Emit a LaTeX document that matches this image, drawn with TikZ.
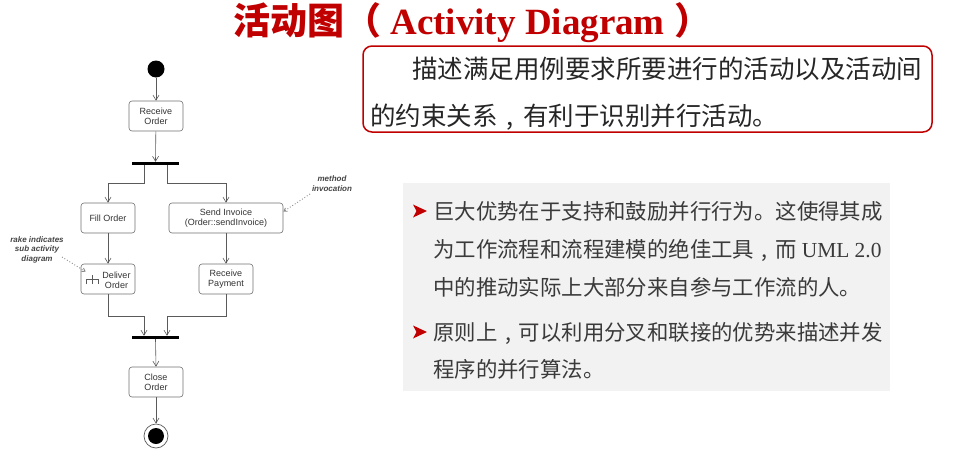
\documentclass[tikz,border=0pt]{standalone}
\usepackage{fontspec}
\setmainfont{Liberation Sans}
\newfontfamily\cjk{Noto Sans CJK SC}
\newfontfamily\latinserif{Liberation Serif}
\usetikzlibrary{arrows.meta}

\definecolor{titlered}{HTML}{C00000}
\definecolor{darktext}{HTML}{262626}
\definecolor{bodytext}{HTML}{3A3A3A}
\definecolor{panelgray}{HTML}{F2F2F2}
\definecolor{linegray}{HTML}{5A5A5A}
\definecolor{boxgray}{HTML}{707070}
\definecolor{diagtext}{HTML}{333333}
\definecolor{notegray}{HTML}{444444}
\definecolor{dotgray}{HTML}{8A8A8A}

% comma set in the middle of a full-width cell
\newcommand{\midcomma}{\makebox[1em][c]{,}}

\tikzset{
  act/.style={draw=boxgray, line width=0.6pt, rounded corners=3pt, fill=white,
    minimum height=30pt, inner sep=0pt, align=center, text=diagtext,
    font=\fontsize{9}{10}\selectfont},
  syncbar/.style={fill=black, minimum height=3pt, minimum width=47pt, inner sep=0pt},
  flow/.style={draw=linegray, line width=0.6pt, -{Straight Barb[length=5pt,width=6pt]}},
  note/.style={font=\fontsize{8}{9.5}\selectfont\bfseries\itshape, text=notegray,
    align=center, inner sep=0pt},
  noteline/.style={draw=dotgray, dotted, line width=0.9pt,
    -{Straight Barb[length=3pt,width=4pt]}},
  redline/.style={anchor=base west, inner sep=0pt, text=darktext,
    font=\cjk\fontsize{25.5}{25.5}\selectfont},
  panelline/.style={anchor=base west, inner sep=0pt, text=bodytext,
    font=\cjk\fontsize{21.4}{21.4}\selectfont},
}

\begin{document}
\begin{tikzpicture}[x=1pt, y=-1pt]
\useasboundingbox (0,0) rectangle (963,455);

% ---------- heading ----------
\node[anchor=base west, inner sep=0pt, text=titlered] (title) at (233,34.5)
  {{\cjk\bfseries\fontsize{37}{37}\selectfont 活动图（}{\latinserif\bfseries\fontsize{37}{37}\selectfont\ Activity Diagram\ }{\cjk\bfseries\fontsize{37}{37}\selectfont ）}};

% ---------- framed description ----------
\node[draw=titlered, line width=1.5pt, rounded corners=9pt, minimum width=569pt,
      minimum height=86pt, inner sep=0pt] (desc) at (647.5,89) {};
\node[redline] (d1) at (412,78) {描述满足用例要求所要进行的活动以及活动间};
\node[redline] (d2) at (370,125.5) {的约束关系\midcomma 有利于识别并行活动。};

% ---------- grey panel with bullets ----------
\fill[panelgray] (403,183) rectangle (890,391);
\foreach \yb in {211,332} {
  \fill[titlered] (413,\yb-6.5) -- (427,\yb) -- (413,\yb+6.5) -- (416.5,\yb) -- cycle;
}
\node[panelline] (b1) at (433,219) {巨大优势在于支持和鼓励并行行为。这使得其成};
\node[panelline] (b2) at (433,257) {为工作流程和流程建模的绝佳工具\midcomma 而 {\latinserif UML 2.0}};
\node[panelline] (b3) at (433,295) {中的推动实际上大部分来自参与工作流的人。};
\node[panelline] (b4) at (433,340) {原则上\midcomma 可以利用分叉和联接的优势来描述并发};
\node[panelline] (b5) at (433,377) {程序的并行算法。};

% ---------- activity diagram ----------
\node[circle, fill=black, minimum size=17pt, inner sep=0pt] (start) at (156,69) {};
\node[act, minimum width=54pt] (recv) at (156,116) {Receive\\Order};
\node[syncbar] (fork) at (155.5,163.5) {};
\node[act, minimum width=54pt] (fill) at (108,218) {Fill Order};
\node[act, minimum width=114pt] (send) at (226,218) {Send Invoice\\(Order::sendInvoice)};
\node[act, minimum width=54pt] (deliver) at (108,279) {};
\node[align=center, inner sep=0pt, text=diagtext, font=\fontsize{9}{10}\selectfont]
  (delivertext) at (116.5,280) {Deliver\\Order};
\node[act, minimum width=54pt] (pay) at (226,279) {Receive\\Payment};
\node[syncbar] (join) at (155.5,337.5) {};
\node[act, minimum width=54pt] (close) at (156,382) {Close\\Order};
\node[circle, draw=linegray, line width=0.7pt, fill=white, minimum size=24pt, inner sep=0pt] (finish) at (156,436) {};
\node[circle, fill=black, minimum size=16pt, inner sep=0pt] (finishdot) at (156,436) {};

% rake symbol inside the sub-activity
\draw[linegray, line width=0.6pt] (86,284) -- (86,279) -- (98,279) -- (98,284)
  (92,275) -- (92,284);

% control flow
\draw[flow] (start) -- (recv);
\draw[flow] (recv) -- (fork.north);
\draw[flow] ([xshift=-11.5pt]fork.south) -- ++(0,18) -| (fill.north);
\draw[flow] ([xshift=11.5pt]fork.south) -- ++(0,18) -| (send.north);
\draw[flow] (fill) -- (deliver);
\draw[flow] (send.south -| pay.north) -- (pay);
\draw[flow] (deliver.south) -- ++(0,22) -| ([xshift=-11.5pt]join.north);
\draw[flow] (pay.south) -- ++(0,22) -| ([xshift=11.5pt]join.north);
\draw[flow] (join.south) -- (close.north);
\draw[flow] (close.south) -- (finish.north);

% annotations
\node[note] (minote) at (332,183.5) {method\\invocation};
\coordinate (mitail) at (310,194);
\draw[noteline] (mitail) -- ([yshift=-9pt]send.north east);

\node[note] (rakenote) at (37,249.5) {rake indicates\\sub activity\\diagram};
\coordinate (raketail) at (62,257);
\draw[noteline] (raketail) -- ([shift={(5pt,-8pt)}]deliver.north west);
\end{tikzpicture}
\end{document}
